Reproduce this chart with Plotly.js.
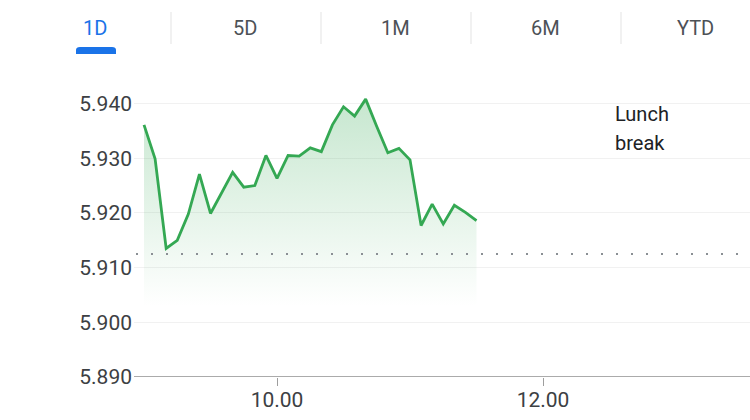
<!DOCTYPE html>
<html>
<head>
<meta charset="utf-8">
<script src="https://cdn.plot.ly/plotly-3.0.1.min.js"></script>
<style>html,body{margin:0;padding:0;background:#fff;}#chart{width:750px;height:420px;}</style>
</head>
<body>
<div id="chart"></div>
<script>
// ---- data ----
const times = [
  "09:00","09:05","09:10","09:15","09:20","09:25","09:30","09:35","09:40","09:45",
  "09:50","09:55","10:00","10:05","10:10","10:15","10:20","10:25","10:30","10:35",
  "10:40","10:45","10:50","10:55","11:00","11:05","11:10","11:15","11:20","11:25","11:30"
];
const prices = [
  5.9361,5.9299,5.9135,5.9150,5.9198,5.9271,5.9199,5.9237,5.9274,5.9247,
  5.9250,5.9305,5.9263,5.9305,5.9304,5.9319,5.9312,5.9361,5.9394,5.9377,
  5.9408,5.9358,5.9310,5.9318,5.9297,5.9177,5.9216,5.9180,5.9214,5.9201,5.9186
];
const previousClose = 5.9125;
const tabLabels = ["1D","5D","1M","6M","YTD"];
const xTickTimes = ["10:00","12:00"];
const xTickLabels = ["10.00","12.00"];
const yTickVals = [5.89,5.90,5.91,5.92,5.93,5.94];
const yTickLabels = ["5.890","5.900","5.910","5.920","5.930","5.940"];
const noteLines = ["Lunch","break"];

// ---- helpers ----
const DAY = "2024-01-02 ";
const toDate = t => DAY + t + ":00";
const L = 134, R = 750, T = 80, B = 377;
const px = x => (x - L) / (R - L);
const py = y => (B - y) / (B - T);
const FONT = "Roboto, sans-serif";

const trace = {
  x: times.map(toDate),
  y: prices,
  type: "scatter",
  mode: "lines",
  line: {color: "#34a853", width: 2.8, shape: "linear"},
  fill: "tozeroy",
  fillgradient: {
    type: "vertical",
    start: 5.903,
    stop: 5.941,
    colorscale: [[0, "rgba(52,168,83,0)"], [1, "rgba(52,168,83,0.28)"]]
  },
  hoverinfo: "skip"
};

const shapes = [];
// previous close dotted line
shapes.push({type: "line", xref: "paper", yref: "y", x0: px(136), x1: 1, y0: previousClose, y1: previousClose,
  line: {color: "#8a8f94", width: 2, dash: "2px,13px"}, layer: "above"});
// tab separators
[171, 321, 471, 621].forEach(x => shapes.push({type: "line", xref: "paper", yref: "paper",
  x0: px(x), x1: px(x), y0: py(44), y1: py(12), line: {color: "#e3e3e3", width: 1}}));
// tab underline
shapes.push({type: "path", xref: "paper", yref: "paper",
  path: `M ${px(76)} ${py(54)} L ${px(76)} ${py(50)} Q ${px(76)} ${py(47)} ${px(80)} ${py(47)} L ${px(112)} ${py(47)} Q ${px(116)} ${py(47)} ${px(116)} ${py(50)} L ${px(116)} ${py(54)} Z`,
  fillcolor: "#1a73e8", line: {width: 0}});
// baseline axis line
shapes.push({type: "line", xref: "paper", yref: "y", x0: 0, x1: 1, y0: 5.890, y1: 5.890,
  line: {color: "#ababab", width: 2}, layer: "above"});

const annotations = tabLabels.map((t, i) => ({
  xref: "paper", yref: "paper", x: px(95 + 150 * i), y: py(28), text: t, showarrow: false,
  xanchor: "center", yanchor: "middle",
  font: {family: FONT, size: 20, color: i === 0 ? "#1a73e8" : "#4d5156"}
}));
noteLines.forEach((t, i) => annotations.push({
  xref: "paper", yref: "paper", x: px(613), y: py(114 + 29 * i), text: t, showarrow: false,
  xanchor: "left", yanchor: "middle", align: "left",
  font: {family: FONT, size: 20, color: "#202124"}
}));

const layout = {
  width: 750, height: 420,
  margin: {l: L, r: 750 - R, t: T, b: 420 - B, pad: 0},
  paper_bgcolor: "#fff", plot_bgcolor: "#fff",
  showlegend: false,
  xaxis: {
    type: "date",
    range: [DAY + "08:55:29", DAY + "13:33:23"],
    tickvals: xTickTimes.map(toDate), ticktext: xTickLabels,
    ticks: "outside", ticklen: 8, tickwidth: 1, tickcolor: "#9e9e9e",
    ticklabelstandoff: -4,
    showgrid: false, zeroline: false,
    showline: false,
    tickfont: {family: FONT, size: 21, color: "#3c4043"}
  },
  yaxis: {
    range: [5.890, 5.9443],
    tickvals: yTickVals, ticktext: yTickLabels,
    showgrid: true, gridcolor: "#f1f1f1", gridwidth: 1,
    zeroline: false, showline: false, ticks: "",
    ticklabelstandoff: 1,
    tickfont: {family: FONT, size: 21, color: "#3c4043"}
  },
  shapes: shapes,
  annotations: annotations
};

Plotly.newPlot("chart", [trace], layout, {staticPlot: true, displayModeBar: false});
</script>
</body>
</html>
